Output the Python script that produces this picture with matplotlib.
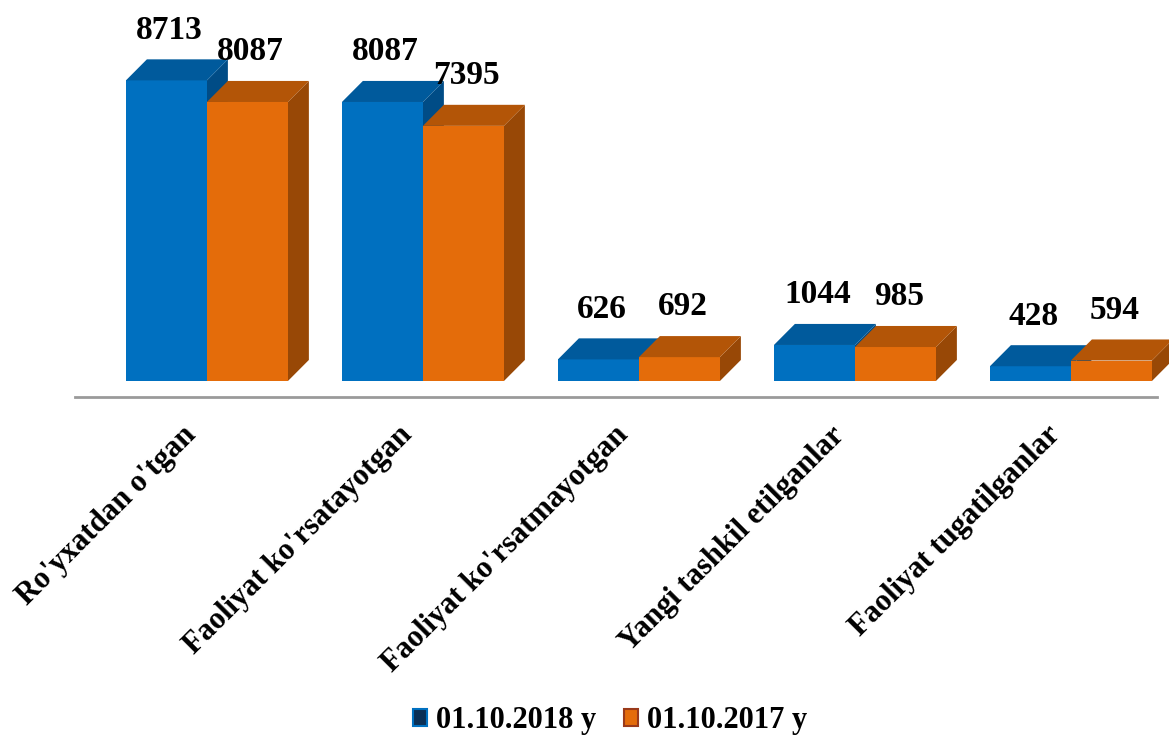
import numpy as np
import matplotlib.pyplot as plt
import matplotlib.transforms as mtransforms
from matplotlib.patches import Polygon, Patch

categories = ["Ro'yxatdan o'tgan", "Faoliyat ko'rsatayotgan", "Faoliyat ko'rsatmayotgan",
              "Yangi tashkil etilganlar", "Faoliyat tugatilganlar"]
vals_2018 = [8713, 8087, 626, 1044, 428]
vals_2017 = [8087, 7395, 692, 985, 594]
series_names = ["01.10.2018 y", "01.10.2017 y"]

# front / top / side colours for the fake 3d boxes
blue = ('#0070C0', '#005A9C', '#004C86')
orange = ('#E46C0A', '#B35507', '#984806')

plt.rcParams['font.family'] = ['Liberation Serif', 'DejaVu Serif']
plt.rcParams['font.weight'] = 'bold'

fig = plt.figure(figsize=(11.69, 7.40), dpi=100)
ax = fig.add_axes([0, 0.4635, 1, 0.5365])
ax.set_xlim(-0.958, 4.454)
ax.set_ylim(-464, 11043)

w = 0.375      # bar width
dx = 0.097     # depth offset (x)
dy = 610       # depth offset (value units)


def box(x0, h, cols):
    x1 = x0 + w
    front = Polygon([(x0, 0), (x1, 0), (x1, h), (x0, h)], closed=True, fc=cols[0], ec='none')
    top = Polygon([(x0, h), (x1, h), (x1 + dx, h + dy), (x0 + dx, h + dy)], closed=True, fc=cols[1], ec='none')
    side = Polygon([(x1, 0), (x1 + dx, dy), (x1 + dx, h + dy), (x1, h)], closed=True, fc=cols[2], ec='none')
    for p in (side, front, top):
        ax.add_patch(p)


x = np.arange(len(categories))
for i in x:
    box(i - w, vals_2018[i], blue)
    box(i, vals_2017[i], orange)
    for xc, v in ((i - w / 2, vals_2018[i]), (i + w / 2, vals_2017[i])):
        ax.annotate(str(v), (xc + 0.015, v + dy), xytext=(0, 21), textcoords='offset points',
                    ha='center', va='center', fontsize=24, fontweight='bold')

for s in ['top', 'left', 'right']:
    ax.spines[s].set_visible(False)
ax.spines['bottom'].set_bounds(-0.61, 4.40)
ax.spines['bottom'].set_color('#9a9a9a')
ax.spines['bottom'].set_linewidth(2)
ax.set_yticks([])
ax.set_xticks(x)
ax.set_xticklabels(categories, rotation=45, ha='right', rotation_mode='anchor',
                   fontsize=22, fontweight='bold')
ax.tick_params(axis='x', length=0, pad=17)
shift = mtransforms.ScaledTranslation(-0.25, 0, fig.dpi_scale_trans)
for lab in ax.get_xticklabels():
    lab.set_transform(lab.get_transform() + shift)

handles = [Patch(fc='#0B2F55', ec='#0070C0', lw=1.5),
           Patch(fc='#E46C0A', ec='#9A3A1A', lw=1.5)]
fig.legend(handles, series_names, loc='center', bbox_to_anchor=(0.522, 0.026), ncol=2,
           frameon=False, handlelength=0.45, handleheight=0.45,
           handletextpad=0.3, columnspacing=0.9, prop={'weight': 'bold', 'size': 22})

fig.savefig('out.png', dpi=100)
